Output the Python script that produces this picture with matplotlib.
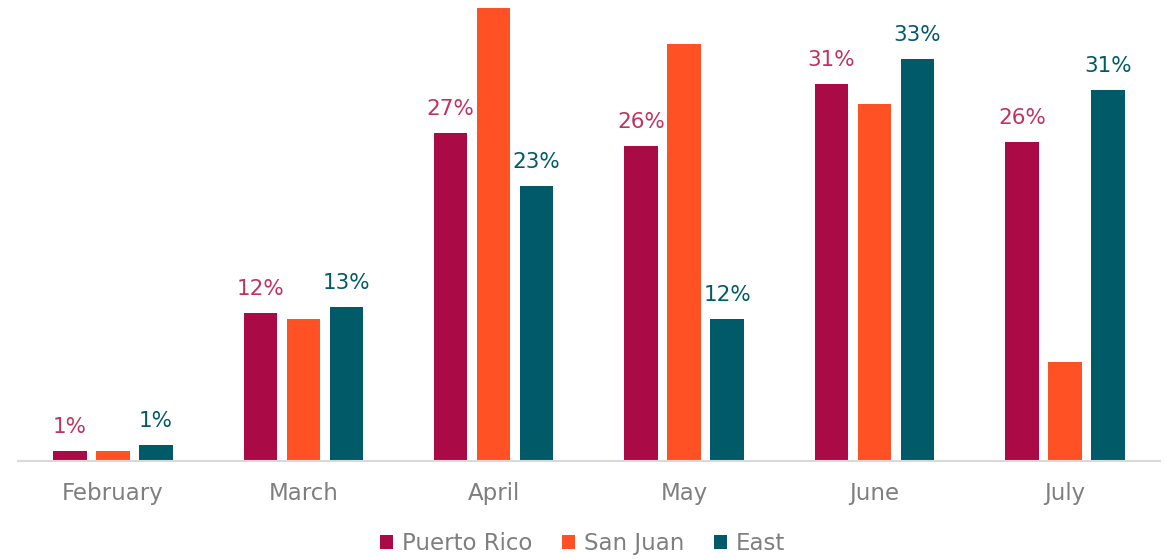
import numpy as np
import matplotlib.pyplot as plt

months = ["February", "March", "April", "May", "June", "July"]
puerto_rico = [0.8, 12.2, 27.0, 26.0, 31.1, 26.3]
san_juan = [0.8, 11.7, 37.3, 34.4, 29.4, 8.2]
east = [1.3, 12.7, 22.7, 11.7, 33.1, 30.6]
pr_labels = ["1%", "12%", "27%", "26%", "31%", "26%"]
east_labels = ["1%", "13%", "23%", "12%", "33%", "31%"]

c_pr = "#AA0A45"
c_sj = "#FF5124"
c_east = "#005A68"

plt.rcParams['font.family'] = ['DejaVu Sans']

fig = plt.figure(figsize=(11.65, 5.59), dpi=100)
ax = fig.add_axes([0.0152, 0.1753, 0.9806, 0.8247])

x = np.arange(len(months))
w = 0.176
step = 0.2257
ax.bar(x - step, puerto_rico, w, color=c_pr, label="Puerto Rico")
ax.bar(x, san_juan, w, color=c_sj, label="San Juan")
ax.bar(x + step, east, w, color=c_east, label="East")

# data labels only for Puerto Rico and East
for xi, v, t in zip(x, puerto_rico, pr_labels):
    ax.annotate(t, (xi - step, v), xytext=(0, 14), textcoords="offset pixels",
                ha="center", va="bottom", fontsize=15.5, color="#C2325F")
for xi, v, t in zip(x, east, east_labels):
    ax.annotate(t, (xi + step, v), xytext=(0, 14), textcoords="offset pixels",
                ha="center", va="bottom", fontsize=15.5, color=c_east)

ax.set_xlim(-0.5, 5.5)
ax.set_ylim(0, 38)
ax.set_xticks(x)
ax.set_xticklabels(months, fontsize=16.5, color="#7F7F7F")
ax.tick_params(axis="x", length=0, pad=15)
ax.set_yticks([])
for s in ["top", "right", "left"]:
    ax.spines[s].set_visible(False)
ax.spines["bottom"].set_color("#D9D9D9")
ax.spines["bottom"].set_linewidth(1.5)

leg = fig.legend(loc="lower center", bbox_to_anchor=(0.5, -0.03), ncol=3, frameon=False,
                 fontsize=16.5, handlelength=0.55, handleheight=0.55, handletextpad=0.4,
                 columnspacing=1.3)
for t in leg.get_texts():
    t.set_color("#7F7F7F")

fig.savefig("out.png", dpi=100)
